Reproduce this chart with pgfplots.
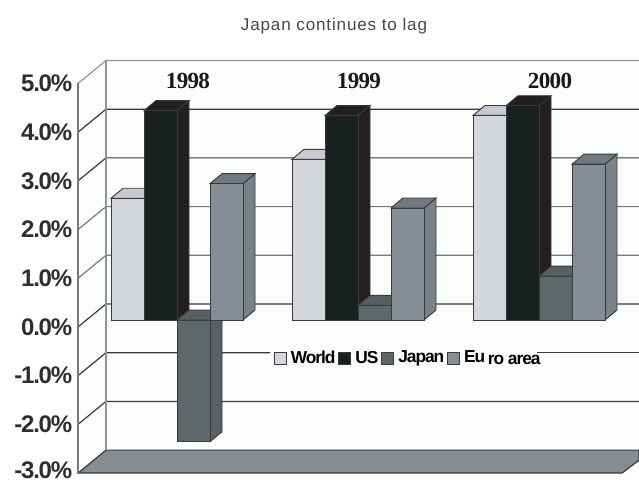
\documentclass[border=0pt]{standalone}
\usepackage{fontspec}
\usepackage{pgfplots}
\pgfplotsset{compat=1.18}
\setmainfont{Liberation Sans}
\newfontfamily\titlefont[LetterSpace=5]{Liberation Sans}
\newfontfamily\yearfont[LetterSpace=-3]{Liberation Serif}
\newfontfamily\tickfont[LetterSpace=-5]{Liberation Sans}
\newfontfamily\keyfont[LetterSpace=-6]{Liberation Sans}

\definecolor{wallc}{HTML}{FBFDFD}
\definecolor{wallline}{HTML}{8C95A1}
\definecolor{darkline}{HTML}{3A3A3C}
\definecolor{midline}{HTML}{77797C}
\definecolor{floorc}{HTML}{868D94}
\definecolor{worldF}{HTML}{D3D6DB}
\definecolor{worldT}{HTML}{C7CAD3}
\definecolor{worldS}{HTML}{C7CAD3}
\definecolor{usF}{HTML}{18211F}
\definecolor{usT}{HTML}{231F20}
\definecolor{usS}{HTML}{231F20}
\definecolor{japanF}{HTML}{5F676A}
\definecolor{japanT}{HTML}{565F62}
\definecolor{japanS}{HTML}{596164}
\definecolor{euroF}{HTML}{868D94}
\definecolor{euroT}{HTML}{727A7F}
\definecolor{euroS}{HTML}{7A8287}

% One bar: left edge in horizontal units, value in percent, colour prefix.
% Front face runs from zero to the value; top and side faces recede behind it.
\newcommand{\dbar}[3]{%
  \pgfmathsetmacro{\xa}{#1}%
  \pgfmathsetmacro{\xb}{#1+33}%
  \pgfmathsetmacro{\xc}{#1+45}%
  \pgfmathsetmacro{\xd}{#1+12}%
  \pgfmathsetmacro{\hi}{max(#2,0)}%
  \pgfmathsetmacro{\lo}{min(#2,0)}%
  \pgfmathsetmacro{\hid}{\hi+0.205}%
  \pgfmathsetmacro{\lod}{\lo+0.205}%
  \edef\drawbar{%
    \noexpand\addplot[fill=#3S,draw=darkline,line width=0.7pt,forget plot]
      coordinates {(\xb,\lo)(\xc,\lod)(\xc,\hid)(\xb,\hi)} -- cycle;
    \noexpand\addplot[fill=#3T,draw=darkline,line width=0.7pt,forget plot]
      coordinates {(\xa,\hi)(\xd,\hid)(\xc,\hid)(\xb,\hi)} -- cycle;
    \noexpand\addplot[fill=#3F,draw=darkline,line width=0.7pt,forget plot]
      coordinates {(\xa,0)(\xb,0)(\xb,#2)(\xa,#2)} -- cycle;
  }\drawbar
}
% A line across the back wall and down the left wall for one scale value.
\newcommand{\scaleline}[2]{%
  \pgfmathsetmacro{\vb}{#1+0.3285}%
  \pgfmathsetmacro{\vf}{#1-0.1437}%
  \edef\drawline{%
    \noexpand\addplot[draw=#2,line width=0.9pt,forget plot]
      coordinates {(78,\vf)(106,\vb)(639,\vb)};
  }\drawline
}

\begin{document}
\begin{tikzpicture}[x=0.75pt,y=0.75pt]
\useasboundingbox (0,0) rectangle (639,482);
\clip (0,0) rectangle (639,482);
\begin{axis}[
  at={(0,0)},anchor=south west,
  scale only axis,
  width=479.25pt,height=361.5pt,
  xmin=0,xmax=639,
  ymin=-3.3265,ymax=6.5708,
  axis lines=none,
  clip=false,
  legend columns=4,
  legend cell align=left,
  legend style={
    at={(axis cs:274,-0.78)},anchor=west,
    draw=none,fill=none,inner sep=0pt,outer sep=0pt,
    font=\keyfont\bfseries\fontsize{13pt}{14pt}\selectfont,
    /tikz/every odd column/.style={column sep=3.4pt},
    /tikz/every even column/.style={column sep=2.2pt},
    nodes={inner sep=0pt,outer sep=0pt},
  },
  legend image code/.code={
    \draw[#1,line width=0.5pt,draw=darkline] (0pt,-4.4pt) rectangle (8.8pt,4.4pt);
  },
]
% Walls and floor
\addplot[fill=wallc,draw=none,forget plot] coordinates
  {(78,-3.1437)(106,-2.6715)(639,-2.6715)(639,5.3285)(106,5.3285)(78,4.8563)} -- cycle;
\addplot[fill=floorc,draw=darkline,line width=0.9pt,forget plot] coordinates
  {(78,-3.1437)(106,-2.6715)(639,-2.6715)(639,-2.88)(622,-3.1437)} -- cycle;
% Scale lines across the walls
\scaleline{5}{wallline}
\scaleline{4}{darkline}
\scaleline{3}{darkline}
\scaleline{2}{midline}
\scaleline{1}{midline}
\scaleline{0}{darkline}
% the -1 line stops either side of the key
\addplot[draw=darkline,line width=0.9pt,forget plot] coordinates {(78,-1.1437)(106,-0.6715)(270,-0.6715)};
\addplot[draw=darkline,line width=0.9pt,forget plot] coordinates {(537,-0.6715)(639,-0.6715)};
\scaleline{-2}{darkline}
\addplot[draw=wallline,line width=1.4pt,forget plot] coordinates {(106,-2.6715)(106,5.3285)};
\addplot[draw=midline,line width=1.1pt,forget plot] coordinates {(78,-3.1437)(78,4.8563)};

% 1998
\dbar{111}{2.5}{world}
\dbar{144}{4.3}{us}
\dbar{177}{-2.5}{japan}
\dbar{210}{2.8}{euro}
% 1999
\dbar{292}{3.3}{world}
\dbar{325}{4.2}{us}
\dbar{358}{0.3}{japan}
\dbar{391}{2.3}{euro}
% 2000
\dbar{473}{4.2}{world}
\dbar{506}{4.4}{us}
\dbar{539}{0.9}{japan}
\dbar{572}{3.2}{euro}

% Legend keys
\addlegendimage{fill=worldF}\addlegendentry{World}
\addlegendimage{fill=usF}\addlegendentry{US}
\addlegendimage{fill=japanF}\addlegendentry{Japan}
\addlegendimage{fill=euroF}\addlegendentry{Eu\kern2pt\raisebox{-1pt}{ro area}}

% Scale labels beside the front edge
\pgfplotsinvokeforeach{5,4,3,2,1,0,-1,-2}{
  \pgfmathsetmacro{\lv}{#1-0.1437}
  \pgfmathparse{#1<0?"-":""}
  \edef\sgn{\pgfmathresult}
  \pgfmathtruncatemacro{\av}{abs(#1)}
  \edef\temp{\noexpand\node[anchor=east,inner sep=0pt,text=black!82,
      font=\noexpand\tickfont\noexpand\bfseries\noexpand\fontsize{18pt}{19pt}\noexpand\selectfont]
    at (axis cs:72.5,\lv) {\sgn\av.0\noexpand\%};}
  \temp
}
\node[anchor=east,inner sep=0pt,text=black!82,
  font=\tickfont\bfseries\fontsize{18pt}{19pt}\selectfont]
  at (axis cs:72.5,-3.09) {-3.0\%};
% Year labels and heading
\node[font=\yearfont\bfseries\fontsize{17.3pt}{18pt}\selectfont,text=black!90] at (axis cs:188,4.91) {1998};
\node[font=\yearfont\bfseries\fontsize{17.3pt}{18pt}\selectfont,text=black!90] at (axis cs:359,4.91) {1999};
\node[font=\yearfont\bfseries\fontsize{17.3pt}{18pt}\selectfont,text=black!90] at (axis cs:550,4.91) {2000};
\node[font=\titlefont\fontsize{12.8pt}{14pt}\selectfont,text=black!72] at (axis cs:334,6.04) {Japan continues to lag};
\end{axis}
\end{tikzpicture}
\end{document}
